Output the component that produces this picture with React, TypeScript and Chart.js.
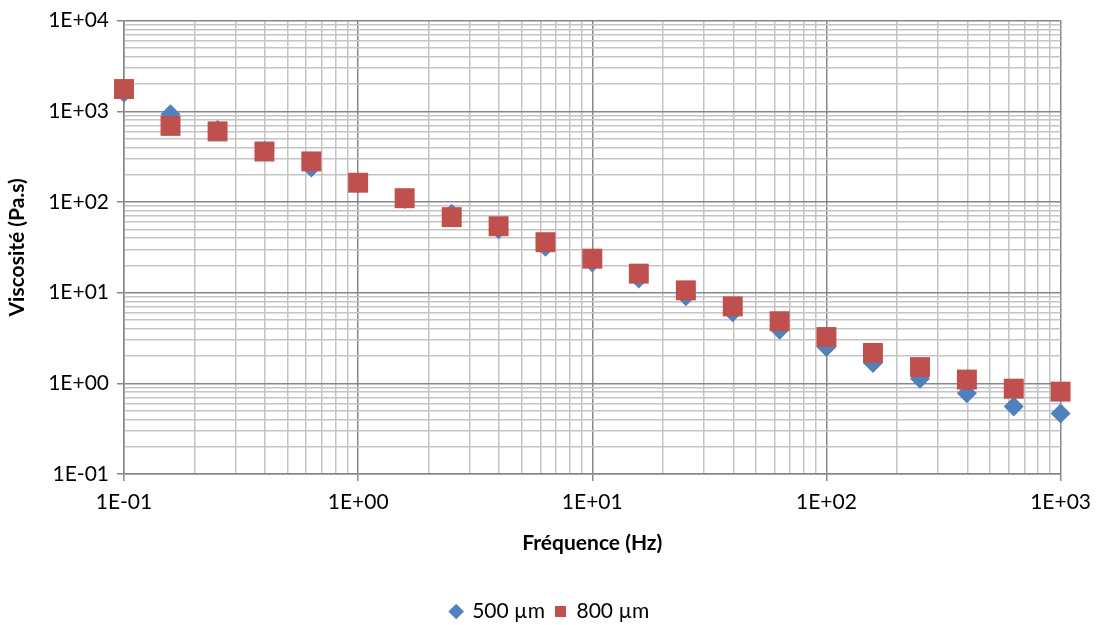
import React, { useEffect, useRef } from "react";
import { Chart, registerables } from "chart.js";

Chart.register(...registerables);

const frequencies = [0.1, 0.158, 0.251, 0.398, 0.631, 1, 1.58, 2.51, 3.98, 6.31, 10, 15.8, 25.1, 39.8, 63.1, 100, 158, 251, 398, 631, 1000];
const visc500 = [1600, 930, 620, 365, 240, 160, 108, 74, 50, 32, 21.5, 14.3, 9.1, 6.07, 3.89, 2.51, 1.68, 1.12, 0.776, 0.555, 0.465];
const visc800 = [1760, 690, 600, 360, 280, 163, 110, 68, 54, 36, 23.7, 16.2, 10.6, 7.06, 4.84, 3.24, 2.16, 1.51, 1.1, 0.873, 0.81];

const seriesLabels = ["500 µm", "800 µm"];
const xDecades = [-1, 0, 1, 2, 3];
const yDecades = [-1, 0, 1, 2, 3, 4];
const mantissas = [1, 2, 3, 4, 5, 6, 7, 8, 9];

const FONT = "Lato, 'Open Sans', sans-serif";

function buildTicks(decades: number[]) {
  const min = Math.pow(10, decades[0]);
  const max = Math.pow(10, decades[decades.length - 1]);
  const out: { value: number; major: boolean }[] = [];
  decades.forEach((d) => {
    mantissas.forEach((m) => {
      const v = parseFloat((m * Math.pow(10, d)).toPrecision(6));
      if (v >= min * 0.9999 && v <= max * 1.0001) out.push({ value: v, major: m === 1 });
    });
  });
  return out;
}

function isMajor(v: number) {
  const l = Math.log10(v);
  return Math.abs(l - Math.round(l)) < 1e-6;
}

function fmt(v: number) {
  const e = Math.round(Math.log10(v));
  const sign = e < 0 ? "-" : "+";
  return "1E" + sign + String(Math.abs(e)).padStart(2, "0");
}

const MAJOR = "#878787";
const MINOR = "#c4c4c4";

export default function App() {
  const ref = useRef<HTMLCanvasElement | null>(null);
  useEffect(() => {
    if (!ref.current) return;
    const gridColor = (c: any) => (c.tick && isMajor(c.tick.value) ? MAJOR : MINOR);
    const tickColor = (c: any) => (c.tick && isMajor(c.tick.value) ? MAJOR : "rgba(0,0,0,0)");
    const chart = new Chart(ref.current, {
      type: "scatter",
      data: {
        datasets: [
          {
            label: seriesLabels[0],
            data: frequencies.map((x, i) => ({ x, y: visc500[i] })),
            pointStyle: "rectRot",
            pointRadius: 10,
            pointHoverRadius: 10,
            backgroundColor: "#4F81BD",
            borderColor: "#4F81BD",
            borderWidth: 0,
            clip: false,
            order: 1,
          },
          {
            label: seriesLabels[1],
            data: frequencies.map((x, i) => ({ x, y: visc800[i] })),
            pointStyle: "rect",
            pointRadius: 14.1,
            pointHoverRadius: 14.1,
            backgroundColor: "#C0504D",
            borderColor: "#C0504D",
            borderWidth: 0,
            clip: false,
            order: 0,
          },
        ],
      },
      options: {
        animation: false,
        responsive: true,
        maintainAspectRatio: false,
        layout: { padding: { top: 19, right: 0, left: 0, bottom: 0 } },
        plugins: {
          tooltip: { enabled: false },
          legend: {
            position: "bottom",
            labels: {
              usePointStyle: true,
              boxWidth: 11,
              boxHeight: 11,
              padding: 10,
              color: "#000",
              font: { family: FONT, size: 21 },
              sort: (a: any, b: any) => a.datasetIndex - b.datasetIndex,
            },
          },
        },
        scales: {
          x: {
            type: "logarithmic",
            min: 0.1,
            max: 1000,
            afterBuildTicks: (s: any) => {
              s.ticks = buildTicks(xDecades);
            },
            afterFit: (s: any) => {
              s.height = 117;
            },
            ticks: {
              autoSkip: false,
              maxRotation: 0,
              minRotation: 0,
              padding: 9,
              color: "#000",
              font: { family: FONT, size: 21 },
              callback: (v: any) => (isMajor(Number(v)) ? fmt(Number(v)) : ""),
            },
            grid: { color: gridColor, tickColor: tickColor, lineWidth: 1.5, tickLength: 7 },
            border: { display: true, color: MAJOR, width: 1.5 },
            title: {
              display: true,
              text: "Fréquence (Hz)",
              color: "#000",
              font: { family: FONT, size: 21, weight: "bold" },
              padding: { top: 4, bottom: 35 },
            },
          },
          y: {
            type: "logarithmic",
            min: 0.1,
            max: 10000,
            afterBuildTicks: (s: any) => {
              s.ticks = buildTicks(yDecades);
            },
            afterFit: (s: any) => {
              s.width = 124;
            },
            ticks: {
              autoSkip: false,
              padding: 8,
              color: "#000",
              font: { family: FONT, size: 21 },
              callback: (v: any) => (isMajor(Number(v)) ? fmt(Number(v)) : ""),
            },
            grid: { color: gridColor, tickColor: tickColor, lineWidth: 1.5, tickLength: 7 },
            border: { display: true, color: MAJOR, width: 1.5 },
            title: {
              display: true,
              text: "Viscosité (Pa.s)",
              color: "#000",
              font: { family: FONT, size: 21, weight: "bold" },
              padding: { top: 5, bottom: 0 },
            },
          },
          spacer: {
            type: "linear",
            position: "right",
            display: true,
            grid: { display: false, drawTicks: false },
            ticks: { display: false },
            border: { display: false },
            afterFit: (s: any) => {
              s.width = 39;
            },
          },
        },
      },
    });
    return () => chart.destroy();
  }, []);
  return (
    <div style={{ position: "fixed", left: 0, top: 0, width: 1100, height: 632, background: "#fff" }}>
      <canvas ref={ref} />
    </div>
  );
}
